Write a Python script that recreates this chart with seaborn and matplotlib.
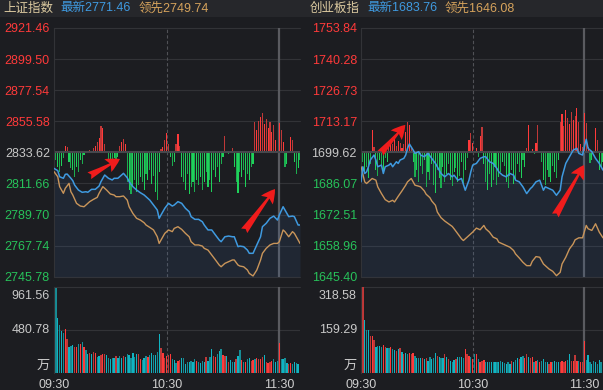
import numpy as np
import matplotlib
matplotlib.use("Agg")
import matplotlib.pyplot as plt
from matplotlib.patches import Rectangle
from matplotlib.transforms import blended_transform_factory
import seaborn as sns

# ---------------- data: 上证指数 (left) ----------------
sh_name = "上证指数"
sh_latest = "最新2771.46"
sh_lead = "领先2749.74"
sh_ticks = [2921.46, 2899.50, 2877.54, 2855.58, 2833.62, 2811.66, 2789.70, 2767.74, 2745.78]
sh_prev = 2833.62
sh_vol_max = 961.56

sh_blue_t = [0, 2, 3, 5, 6, 7, 9, 10, 11, 13, 15, 17, 18, 20, 22, 24, 25, 27, 29, 31,
             32, 34, 36, 37, 39, 40, 42, 44, 46, 48, 49, 51, 53, 55, 56, 57, 59, 61, 63, 64,
             66, 68, 70, 72, 73, 75, 77, 79, 80, 82, 84, 86, 88, 89, 91, 93, 95, 96, 98, 99,
             101, 103, 104, 106, 108, 110, 111, 113, 115, 117, 119, 120, 122, 123, 125, 127, 128, 130, 131]
sh_blue = [2822.3, 2820.7, 2816.4, 2815.3, 2818.1, 2818.3, 2815.3, 2813.6, 2810.5, 2807.0,
           2805.4, 2805.8, 2805.4, 2807.5, 2807.5, 2809.8, 2812.9, 2817.6, 2815.3, 2814.1,
           2815.3, 2815.3, 2817.6, 2818.8, 2815.7, 2812.9, 2809.4, 2807.0, 2805.1, 2803.5,
           2802.3, 2799.9, 2796.4, 2792.9, 2787.0, 2789.4, 2794.1, 2797.6, 2795.7, 2796.4,
           2798.8, 2797.6, 2794.1, 2791.7, 2788.2, 2786.3, 2786.3, 2784.6, 2782.3, 2778.8,
           2778.8, 2775.2, 2771.7, 2770.5, 2774.0, 2774.5, 2774.0, 2774.0, 2767.0, 2767.4,
           2767.0, 2764.6, 2762.3, 2762.3, 2768.2, 2774.0, 2781.1, 2783.5, 2787.0, 2788.6,
           2785.8, 2789.4, 2795.2, 2792.9, 2788.2, 2788.6, 2788.2, 2782.3, 2782.3]
sh_orange_t = [0, 2, 3, 5, 6, 8, 9, 10, 12, 14, 16, 17, 19, 21, 23, 24, 26, 28, 30, 32,
               33, 35, 37, 39, 40, 42, 44, 46, 48, 49, 51, 53, 55, 56, 57, 59, 61, 63, 64, 66,
               68, 70, 72, 73, 75, 77, 79, 80, 82, 84, 86, 88, 89, 91, 93, 95, 96, 98, 99, 101,
               103, 104, 106, 108, 110, 111, 113, 115, 117, 119, 120, 122, 123, 125, 127, 128, 130, 131]
sh_orange = [2820.0, 2816.4, 2809.4, 2804.7, 2808.2, 2811.7, 2805.8, 2803.5, 2797.6, 2795.7,
             2795.2, 2796.4, 2798.8, 2800.4, 2801.8, 2804.7, 2809.4, 2807.0, 2804.2, 2803.5,
             2802.3, 2802.3, 2802.8, 2799.9, 2795.2, 2790.5, 2787.0, 2785.8, 2783.9, 2782.3,
             2780.6, 2778.8, 2774.0, 2769.3,
             2771.7, 2776.4, 2778.8, 2777.6, 2779.9, 2781.1,
             2779.2, 2776.4, 2774.0, 2770.5, 2768.2, 2768.2, 2767.4, 2765.8, 2764.6, 2761.1,
             2757.6, 2754.0, 2752.8, 2755.2, 2756.4, 2757.6, 2757.6, 2754.0, 2753.3, 2752.8,
             2750.5, 2748.1, 2746.3, 2750.5, 2757.6, 2762.3, 2765.8, 2768.2, 2769.3, 2769.3,
             2770.5, 2778.8, 2777.6, 2774.0, 2777.6, 2776.4, 2771.7, 2769.3]
# buy/sell strength per minute (+ red up, - green down)
sh_strength = [-12, -8, -15, -20, -14, -6, 6, 5, -10, -16,
               -18, -25, -15, -20, -8, -12, -3, 0, 0, 2,
               0, 4, 6, 10, 14, 26, 24, 8, 0, -8,
               -10, -12, -6, -9, -5, 6, 10, 13, 8, -30,
               -38, -42, -35, -28, -40, -33, -25, -30, -38, -22,
               -28, -18, -32, -24, -40, -48, -20, 3, 5, 12,
               19, 8, -5, -14, -10, 8, 18, 6, -25, -30,
               -38, -22, -42, -35, -30, -40, -28, -33, -25, -38,
               -30, -20, -35, -28, -40, -18, -25, -15, -30, -12,
               -5, 16, 0, -2, 0, 4, -15, -30, -41, -20,
               -25, -18, -35, -22, -28, -15, -12, 30, 22, 31,
               35, 39, 28, 33, 24, 30, 20, 27, 12, 0,
               29, 22, 10, -15, -12, 0, 15, 12, -10, -22,
               -16, -8]
sh_volume = [274, 955, 612, 537, 473, 443, 492, 379, 293, 300,
             311, 285, 285, 323, 323, 345, 285, 255, 210, 225,
             210, 236, 218, 173, 188, 195, 210, 210, 199, 165,
             158, 161, 169, 188, 161, 188, 161, 188, 173, 210,
             195, 161, 225, 173, 210, 210, 150, 143, 165, 188,
             173, 203, 218, 199, 199, 236, 435, 274, 218, 161,
             188, 200, 210, 150, 143, 105, 135, 143, 161, 161,
             98, 124, 124, 128, 120, 150, 131, 124, 105, 131,
             124, 173, 131, 173, 263, 188, 173, 210, 248, 263,
             195, 188, 188, 124, 143, 124, 124, 150, 188, 255,
             143, 124, 124, 150, 165, 131, 143, 158, 165, 150,
             150, 173, 199, 116, 113, 124, 131, 150, 120, 135,
             338, 150, 158, 161, 105, 98, 105, 98, 120, 113, 94]
sh_vol_dir = list("w" "ttttt" "rr" "ttt" "rr" "t" "r" "t" "r" "tt" "r" "t" "rr" "tt" "rrr"
                  "ttttt" "r" "ttt" "r" "ttttttt" "rr" "ttt" "r" "tttttt" "rrrrrr" "ttt" "rr"
                  "tttttttt" "r" "tttt" "r" "ttt" "rr" "ttt" "rr" "t" "r" "ttt" "r" "tt" "r"
                  "t" "r" "tt" "rr" "t" "rrrr" "t" "rrrr" "ttt" "r" "tttt" "rr" "tttt")
sh_arrow_tail = [(18.8, 2817.1), (101.3, 2778.2)]
sh_arrow_tip = [(35.1, 2828.9), (117.7, 2807.7)]

# ---------------- data: 创业板指 (right) ----------------
cy_name = "创业板指"
cy_latest = "最新1683.76"
cy_lead = "领先1646.08"
cy_ticks = [1753.84, 1740.28, 1726.73, 1713.17, 1699.62, 1686.07, 1672.51, 1658.96, 1645.40]
cy_prev = 1699.62
cy_vol_max = 318.58

cy_blue_t = [0, 1, 2, 3, 4, 5, 7, 8, 9, 11, 12, 13, 15, 16, 17, 19, 20, 21, 23, 24,
             25, 26, 28, 29, 31, 32, 34, 36, 38, 40, 41, 43, 45, 47, 49, 50, 52, 54, 56, 58,
             59, 60, 62, 64, 66, 67, 69, 71, 73, 74, 76, 78, 80, 82, 83, 85, 87, 89, 91, 92,
             94, 96, 98, 99, 101, 103, 105, 107, 108, 110, 112, 114, 116, 117, 119, 120, 121, 122, 124, 126,
             128, 130]
cy_blue = [1686.76, 1693.34, 1690.41, 1691.14, 1693.34, 1696.26, 1698.45, 1696.26, 1693.34, 1694.07,
           1690.41, 1693.34, 1694.07, 1694.80, 1693.34, 1695.53, 1694.80, 1696.26, 1696.99, 1698.45,
           1701.37, 1703.27, 1700.64, 1699.18, 1699.91, 1698.45, 1697.72, 1699.18, 1696.99, 1694.80,
           1693.34, 1690.41, 1688.95, 1690.41, 1688.95, 1689.68, 1687.49, 1688.22, 1683.11, 1687.49,
           1691.14, 1694.07, 1694.80, 1696.99, 1697.72, 1697.72, 1695.53, 1694.80, 1692.60, 1691.14,
           1689.68, 1688.95, 1690.41, 1689.68, 1687.49, 1686.76, 1684.57, 1681.64, 1683.84, 1684.57,
           1686.76, 1687.49, 1683.11, 1684.57, 1683.84, 1683.11, 1680.91, 1683.11, 1688.95, 1694.80,
           1697.72, 1700.64, 1701.37, 1699.18, 1698.45, 1702.10, 1705.32, 1701.37, 1699.91, 1696.99,
           1694.80, 1691.87]
cy_orange_t = [0, 2, 3, 4, 6, 8, 9, 11, 13, 15, 17, 18, 20, 22, 24, 25, 27, 28, 29, 31,
               32, 34, 35, 37, 38, 40, 41, 43, 45, 47, 49, 50, 52, 54, 55, 57, 59, 60, 62, 64,
               66, 67, 69, 71, 73, 74, 76, 78, 80, 82, 83, 85, 87, 89, 91, 92, 94, 96, 98, 99,
               101, 103, 105, 107, 108, 110, 112, 114, 115, 117, 119, 121, 122, 124, 126, 128, 130]
cy_orange = [1693.34, 1686.76, 1686.03, 1686.76, 1688.22, 1687.49, 1684.57, 1681.64, 1679.01, 1677.99,
             1678.72, 1677.99, 1680.47, 1682.81, 1685.30, 1686.76, 1688.22, 1686.76, 1685.30, 1684.86,
             1684.57, 1682.81, 1681.35, 1679.89, 1678.43, 1676.53, 1673.61, 1671.12, 1669.66, 1668.49,
             1667.32, 1666.30, 1664.11, 1661.91, 1661.18, 1662.64, 1664.11, 1664.84, 1666.59, 1665.86,
             1667.76, 1666.30, 1664.84, 1662.64, 1661.91, 1660.45, 1659.72, 1658.99, 1658.26, 1656.80,
             1655.34, 1653.58, 1651.68, 1650.22, 1650.22, 1652.12, 1654.17, 1653.88, 1650.95, 1650.22,
             1648.76, 1647.74, 1645.84, 1647.30, 1650.95, 1653.88, 1657.53, 1659.72, 1661.48, 1662.35,
             1662.35, 1667.76, 1666.30, 1665.57, 1668.49, 1664.84, 1662.35]
cy_strength = [14, -10, -20, -15, -26, -12, 22, 5, -18, -24,
               -8, -15, -20, -6, -10, 6, 10, 8, 16, 6,
               11, 9, 4, 8, 20, 30, 27, 4, -10, -25,
               -18, -30, -14, -22, -8, -35, -20, -28, -12, -33,
               -41, -18, -26, -36, -15, -30, -22, -12, -28, -34,
               -20, -16, -30, -24, -10, -32, -18, -6, 12, 19,
               9, 0, 4, -5, 16, 25, -12, -30, -38, -22,
               -35, -28, -15, -33, -25, -20, -10, -14, -30, -36,
               -24, -18, -32, -28, -12, -20, -26, -8, -15, 4,
               27, 0, 3, -2, 9, 27, 0, -10, -28, -33,
               -18, -25, -30, -14, -20, -26, -8, 30, 38, 26,
               42, 34, 28, 40, 32, 36, 44, 30, 8, 5,
               39, 29, 5, -11, -8, 0, 24, 12, -18, -15,
               -10]
cy_volume = [65, 318, 197, 159, 159, 138, 138, 122, 97, 100,
             100, 97, 103, 95, 93, 90, 97, 88, 84, 82,
             88, 93, 78, 71, 75, 71, 75, 71, 75, 62,
             55, 55, 53, 55, 50, 53, 45, 59, 50, 55,
             74, 63, 59, 55, 55, 68, 58, 50, 45, 40,
             46, 50, 59, 58, 59, 55, 88, 68, 62, 59,
             50, 68, 71, 50, 40, 43, 46, 40, 40, 40,
             40, 38, 40, 40, 40, 43, 40, 35, 34, 38,
             34, 45, 38, 46, 55, 50, 58, 63, 55, 71,
             59, 55, 59, 38, 43, 46, 40, 43, 50, 40,
             40, 34, 40, 38, 43, 40, 40, 40, 43, 40,
             45, 46, 68, 43, 45, 65, 43, 43, 40, 40,
             118, 46, 65, 40, 34, 43, 38, 34, 46, 40]
cy_vol_dir = list("w" "r" "ttt" "rrr" "tttt" "rr" "tt" "r" "tt" "r" "t" "r" "t" "r" "tt" "rrr"
                  "tttt" "r" "t" "r" "ttttt" "r" "ttt" "r" "t" "r" "ttt" "r" "tttt" "rrr" "t"
                  "r" "t" "r" "t" "rrr" "tttttttttttttt" "r" "ttt" "r" "tt" "rr" "t" "rr" "t"
                  "r" "t" "r" "tttt" "rr" "tttt" "rrrr" "tt" "rrrr" "t" "rrr" "ttttttttt")
cy_arrow_tail = [(10.4, 1699.2), (104.4, 1672.1)]
cy_arrow_tip = [(23.8, 1711.6), (119.8, 1694.1)]

time_ticks = [0, 60, 120]
time_labels = ["09:30", "10:30", "11:30"]

# ---------------- style ----------------
BG = "#1c1d21"
HEADER_BG = "#26272b"
GRID = "#323337"
PREV_LINE = "#46474c"
DASH = "#505156"
NOON = "#5a5b60"
BLUE = "#3f9ae0"
ORANGE = "#c9955a"
RED = "#ff3a3a"
RED_D = "#c03838"
GREEN = "#1fd15a"
GREEN_D = "#1cad4f"
TEAL = "#10b4c2"
TEAL_D = "#178d96"
LABEL_GRAY = "#c8c8c8"
LABEL_GREEN = "#27c25a"

sns.set_theme(style="dark", rc={"axes.facecolor": BG, "figure.facecolor": BG,
                                "savefig.facecolor": BG, "patch.force_edgecolor": False})
plt.rcParams["font.family"] = ["Liberation Sans", "Noto Sans CJK SC"]

W, H = 603, 390
fig = plt.figure(figsize=(W / 100, H / 100), dpi=100)
fig.patch.set_facecolor(BG)
fig.add_artist(Rectangle((0, 1 - 17 / H), 1, 17 / H, transform=fig.transFigure,
                         facecolor=HEADER_BG, lw=0, zorder=0))


def add_px_axes(x0, y0, x1, y1):
    ax = fig.add_axes([x0 / W, 1 - y1 / H, (x1 - x0) / W, (y1 - y0) / H])
    ax.set_facecolor("none")
    for s in ax.spines.values():
        s.set_visible(False)
    ax.grid(False)
    return ax


def draw_panel(x0, x1, xmax, hx, name, latest, lead, ticks, prev, bt, bv, ot, ov,
               strength, volume, vdir, vmax, tails, tips):
    ptop, pbot = 28.0, 276.7
    vtop, vbot = 287.0, 372.7
    # header
    yh = 1 - 8.5 / H
    fig.text(hx[0] / W, yh, name, color="#dccaa0", fontsize=9, va="center", ha="left")
    fig.text(hx[1] / W, yh, latest, color=BLUE, fontsize=9, va="center", ha="left")
    fig.text(hx[2] / W, yh, lead, color="#d6a35c", fontsize=9, va="center", ha="left")

    # ---- price panel ----
    ax = add_px_axes(x0, ptop, x1, pbot)
    ax.set_xlim(0, xmax)
    ax.set_ylim(ticks[-1], ticks[0])
    for v in ticks:
        if v != prev:
            ax.axhline(v, color=GRID, lw=0.8, zorder=1, clip_on=False)
    ax.axvline(60, color=DASH, lw=0.8, ls=(0, (3, 2)), zorder=1)
    ax.axvline(120, color=NOON, lw=1.6, zorder=1)
    ax.spines["left"].set_visible(True)
    ax.spines["left"].set_color(GRID)
    ax.spines["left"].set_linewidth(0.8)

    ax.fill_between(bt, bv, ticks[-1], color="#3f6eb0", alpha=0.13, lw=0, zorder=1.5)

    k = (ticks[0] - ticks[-1]) / (pbot - ptop)
    st = np.asarray(strength, dtype=float)
    tt = np.arange(len(st))
    scol = []
    for i, s in enumerate(st):
        if s >= 0:
            scol.append(RED if i % 2 == 0 else RED_D)
        else:
            scol.append(GREEN if i % 2 == 0 else GREEN_D)
    ax.bar(tt, st * k, bottom=prev, width=0.6, color=scol, edgecolor="none", lw=0,
           antialiased=False, zorder=2)
    ax.axhline(prev, color=PREV_LINE, lw=1.5, zorder=2.5)

    sns.lineplot(x=ot, y=ov, ax=ax, color=ORANGE, lw=1.0, zorder=3, legend=False)
    sns.lineplot(x=bt, y=bv, ax=ax, color=BLUE, lw=1.1, zorder=3.2, legend=False)

    for (ta, pa), (tb, pb) in zip(tails, tips):
        ax.annotate("", xy=(tb, pb), xytext=(ta, pa),
                    arrowprops=dict(arrowstyle="fancy,head_length=0.9,head_width=0.95,tail_width=0.5",
                                    color="#f01c1c", lw=0, shrinkA=0, shrinkB=0,
                                    mutation_scale=11), zorder=5)

    ax.set_xticks([])
    ax.set_yticks(ticks)
    ax.set_yticklabels([f"{v:.2f}" for v in ticks])
    ax.tick_params(axis="y", length=0, pad=3, labelsize=9)
    for lbl, v in zip(ax.get_yticklabels(), ticks):
        lbl.set_color(RED if v > prev else (LABEL_GRAY if v == prev else LABEL_GREEN))
    ax.set_xlabel("")
    ax.set_ylabel("")

    # ---- volume panel ----
    axv = add_px_axes(x0, vtop, x1, vbot)
    axv.set_xlim(0, xmax)
    axv.set_ylim(0, vmax)
    axv.axhline(vmax / 2, color=GRID, lw=0.8, zorder=1)
    axv.axhline(vmax, color=GRID, lw=0.8, zorder=1, clip_on=False)
    axv.axvline(60, color=DASH, lw=0.8, ls=(0, (3, 2)), zorder=1)
    axv.axvline(120, color=NOON, lw=1.6, zorder=1)
    axv.spines["left"].set_visible(True)
    axv.spines["left"].set_color(GRID)
    axv.spines["left"].set_linewidth(0.8)
    vcol = []
    for i, d in enumerate(vdir):
        if d == "w":
            vcol.append("#eeeeee")
        elif d == "r":
            vcol.append(RED if i % 2 == 0 else RED_D)
        else:
            vcol.append(TEAL if i % 2 == 0 else TEAL_D)
    axv.bar(np.arange(len(volume)), volume, width=0.7, color=vcol, edgecolor="none", lw=0,
            antialiased=False, zorder=2)
    axv.set_yticks([])
    axv.set_xticks(time_ticks)
    axv.set_xticklabels(time_labels)
    axv.tick_params(axis="x", length=0, pad=4.5, labelsize=9, labelcolor="#cfcfcf")
    tr = blended_transform_factory(axv.transAxes, axv.transData)
    axv.annotate(f"{vmax:.2f}", xy=(0, vmax), xycoords=tr, xytext=(-3, -2.5),
                 textcoords="offset points", ha="right", va="top", fontsize=9, color=LABEL_GRAY)
    axv.annotate(f"{vmax / 2:.2f}", xy=(0, vmax / 2), xycoords=tr, xytext=(-3, 0),
                 textcoords="offset points", ha="right", va="center", fontsize=9, color=LABEL_GRAY)
    axv.annotate("万", xy=(0, 0), xycoords=tr, xytext=(-3, 5),
                 textcoords="offset points", ha="right", va="center", fontsize=9.5, color=LABEL_GRAY)


draw_panel(54, 300, 131, (3, 60, 139), sh_name, sh_latest, sh_lead, sh_ticks, sh_prev,
           sh_blue_t, sh_blue, sh_orange_t, sh_orange, sh_strength, sh_volume, sh_vol_dir,
           sh_vol_max, sh_arrow_tail, sh_arrow_tip)
draw_panel(361, 603, 130, (310, 367, 445), cy_name, cy_latest, cy_lead, cy_ticks, cy_prev,
           cy_blue_t, cy_blue, cy_orange_t, cy_orange, cy_strength, cy_volume, cy_vol_dir,
           cy_vol_max, cy_arrow_tail, cy_arrow_tip)

fig.savefig("out.png", dpi=100, facecolor=BG)
